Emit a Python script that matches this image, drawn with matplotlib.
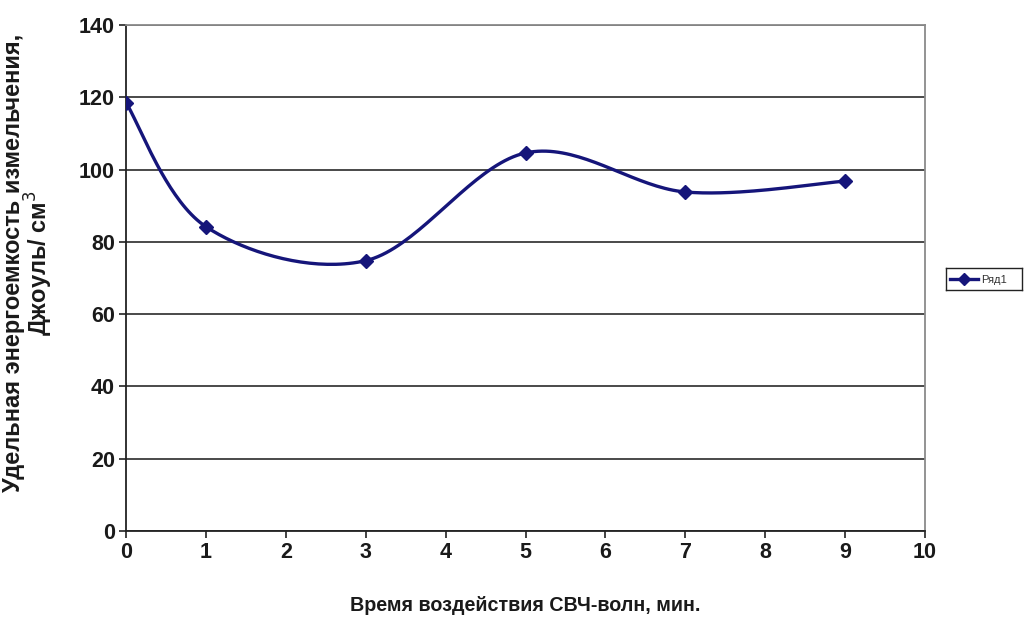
import numpy as np
import matplotlib.pyplot as plt

# Время воздействия и удельная энергоемкость
minutes = [0, 1, 3, 5, 7, 9]
energy = [118.5, 84.2, 74.8, 104.6, 93.8, 96.8]
y_ticks = [0, 20, 40, 60, 80, 100, 120, 140]
x_ticks = list(range(0, 11))

plt.rcParams['font.family'] = ['Liberation Sans', 'DejaVu Sans']


def smooth_curve(xs, ys, steps=40):
    # Catmull-Rom style bezier smoothing between neighbouring points
    xs = np.asarray(xs, float)
    ys = np.asarray(ys, float)
    n = len(xs)
    out_x, out_y = [], []
    t = np.linspace(0, 1, steps)
    for i in range(n - 1):
        p0 = np.array([xs[max(i - 1, 0)], ys[max(i - 1, 0)]])
        p1 = np.array([xs[i], ys[i]])
        p2 = np.array([xs[i + 1], ys[i + 1]])
        p3 = np.array([xs[min(i + 2, n - 1)], ys[min(i + 2, n - 1)]])
        c1 = p1 + (p2 - p0) / 6
        c2 = p2 - (p3 - p1) / 6
        pts = ((1 - t)[:, None] ** 3 * p1 + 3 * ((1 - t) ** 2 * t)[:, None] * c1
               + 3 * ((1 - t) * t ** 2)[:, None] * c2 + (t ** 3)[:, None] * p2)
        out_x.extend(pts[:, 0])
        out_y.extend(pts[:, 1])
    return np.array(out_x), np.array(out_y)


fig = plt.figure(figsize=(10.27, 6.19), dpi=100)
ax = fig.add_axes([0.1227, 0.1422, 0.778, 0.8174])

navy = '#15157a'
sx, sy = smooth_curve(minutes, energy)
ax.plot(sx, sy, color=navy, linewidth=2.4, zorder=3)
ax.plot(minutes, energy, linestyle='none', marker='D', markersize=7,
        color=navy, zorder=4)

ax.set_xlim(0, 10)
ax.set_ylim(0, 140)
ax.set_xticks(x_ticks)
ax.set_yticks(y_ticks)
ax.yaxis.grid(True, color='#3a3a3a', linewidth=1.3)
ax.set_axisbelow(True)

for side in ['top', 'right']:
    ax.spines[side].set_color('#8a8a8a')
    ax.spines[side].set_linewidth(1.3)
for side in ['left', 'bottom']:
    ax.spines[side].set_color('#222222')
    ax.spines[side].set_linewidth(1.3)

ax.tick_params(axis='both', direction='out', length=5, width=1.2,
               color='#222222', labelsize=15.5, pad=3)
for lbl in ax.get_xticklabels() + ax.get_yticklabels():
    lbl.set_fontweight('bold')
    lbl.set_color('#1a1a1a')

ax.set_xlabel('Время воздействия СВЧ-волн, мин.', fontsize=14.2,
              fontweight='bold', color='#1a1a1a')
ax.xaxis.set_label_coords(0.5, -0.128)
ax.set_ylabel('Удельная энергоемкость измельчения,\nДжоуль/ см$^{3}$',
              fontsize=17, fontweight='bold', color='#1a1a1a',
              linespacing=0.9)
ax.yaxis.set_label_coords(-0.089, 0.53)

# Легенда справа от области построения
leg_ax = fig.add_axes([0.921, 0.531, 0.074, 0.036])
leg_ax.set_xlim(0, 1)
leg_ax.set_ylim(0, 1)
leg_ax.set_xticks([])
leg_ax.set_yticks([])
for s in leg_ax.spines.values():
    s.set_color('#222222')
    s.set_linewidth(1.0)
leg_ax.plot([0.06, 0.42], [0.5, 0.5], color=navy, linewidth=2.4)
leg_ax.plot([0.24], [0.5], marker='D', markersize=6, color=navy)
leg_ax.text(0.46, 0.48, 'Ряд1', fontsize=8, va='center', ha='left',
            color='#333333')

fig.savefig('out.png', dpi=100)
